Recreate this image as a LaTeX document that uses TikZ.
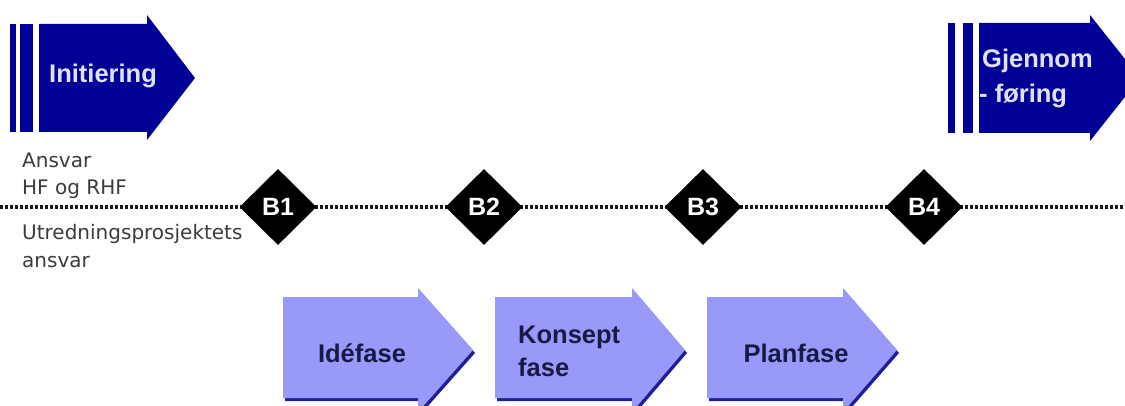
\documentclass[tikz,border=0pt]{standalone}
\usepackage{fontspec}
\usetikzlibrary{shapes.geometric}
\newfontfamily\arialf{Liberation Sans}
\newfontfamily\dejaf{DejaVu Sans}
\definecolor{navy}{RGB}{0,0,150}
\definecolor{navytext}{RGB}{225,225,255}
\definecolor{lightpurple}{RGB}{153,153,250}
\definecolor{shadowblue}{RGB}{30,30,150}
\definecolor{darktext}{RGB}{25,25,70}
\definecolor{graytext}{RGB}{60,60,60}
\tikzset{
  bigtxt/.style={font=\arialf\bfseries\fontsize{25.5}{28}\selectfont, inner sep=0pt},
  toptxt/.style={bigtxt, text=navytext},
  bottxt/.style={bigtxt, text=darktext},
  smalltxt/.style={font=\dejaf\fontsize{20}{22}\selectfont, text=graytext, inner sep=0pt, anchor=base west},
  milestone/.style={diamond, fill=black, minimum width=77pt, minimum height=76pt, inner sep=0pt,
    font=\arialf\bfseries\fontsize{25}{26}\selectfont, text=white},
  dotline/.style={line width=3.5pt, dash pattern=on 3pt off 2pt, draw=black!90},
  phase/.style={fill=lightpurple},
  phaseshadow/.style={fill=shadowblue},
  toparrow/.style={fill=navy}
}
\begin{document}
\begin{tikzpicture}[x=1pt,y=-1pt]
\useasboundingbox (0,0) rectangle (1125,406);
\clip (0,0) rectangle (1125,406);
\fill[white] (0,0) rectangle (1125,406);
% top-left arrow
\fill[toparrow] (10,24) rectangle (16,132);
\fill[toparrow] (20,24) rectangle (33,132);
\fill[toparrow] (39,24) -- (147,24) -- (147,15) -- (195,78) -- (147,140) -- (147,132) -- (39,132) -- cycle;
\node[toptxt, anchor=base west] (init) at (49,83) {Initiering};
% top-right arrow
\fill[toparrow] (948,23) rectangle (955,133);
\fill[toparrow] (963,23) rectangle (973,133);
\fill[toparrow] (979,23) -- (1090,23) -- (1090,15) -- (1140,78) -- (1090,141) -- (1090,133) -- (979,133) -- cycle;
\node[toptxt, anchor=base west] (gj1) at (982,68) {Gjennom};
\node[toptxt, anchor=base west] (gj2) at (979,103) {- føring};
% dotted line and milestones
\coordinate (lstart) at (0,207);
\coordinate (lend) at (1125,207);
\draw[dotline] (lstart) -- (lend);
\node[milestone] (b1) at (278,207) {B1};
\node[milestone] (b2) at (484,207) {B2};
\node[milestone] (b3) at (703,207) {B3};
\node[milestone] (b4) at (924,207) {B4};
% labels
\node[smalltxt] (a1) at (22,168) {Ansvar};
\node[smalltxt] (a2) at (22,195) {HF og RHF};
\node[smalltxt] (u1) at (22,240) {Utredningsprosjektets};
\node[smalltxt] (u2) at (22,268) {ansvar};
% bottom phase arrows
\foreach \xa/\xb/\xt in {283/418/473, 495/632/685, 707/843/897}{
  \fill[phaseshadow] ({\xa+2},{297+3}) -- ({\xb+2},{297+3}) -- ({\xb+2},{288+3}) -- ({\xt+2},{350+3}) -- ({\xb+2},{412+3}) -- ({\xb+2},{398+3}) -- ({\xa+2},{398+3}) -- cycle;
  \fill[phase] (\xa,297) -- (\xb,297) -- (\xb,288) -- (\xt,350) -- (\xb,412) -- (\xb,398) -- (\xa,398) -- cycle;
}
\node[bottxt, anchor=base] (ide) at (362,362) {Idéfase};
\node[bottxt, anchor=base west] (kon1) at (518,343) {Konsept};
\node[bottxt, anchor=base west] (kon2) at (518,376) {fase};
\node[bottxt, anchor=base] (plan) at (796,362) {Planfase};
\end{tikzpicture}
\end{document}
